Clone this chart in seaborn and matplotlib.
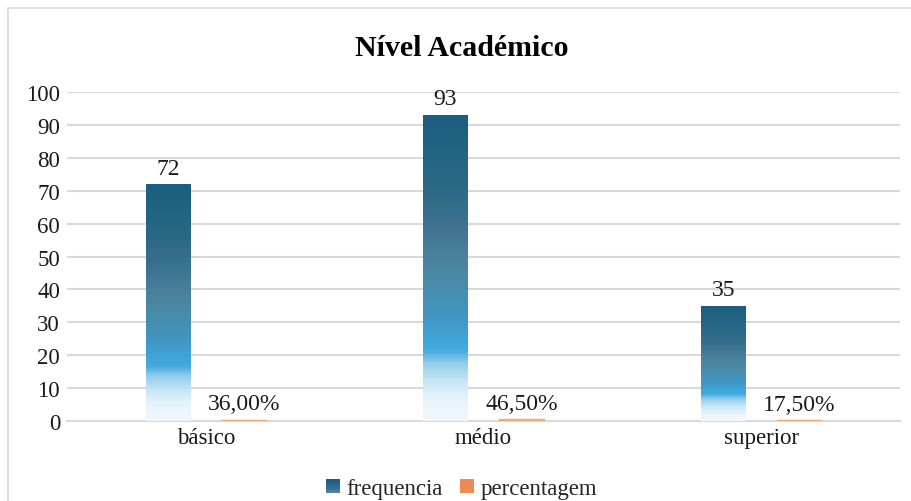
import numpy as np
import pandas as pd
import matplotlib
matplotlib.use("Agg")
import matplotlib.pyplot as plt
import seaborn as sns
from matplotlib.colors import LinearSegmentedColormap
from matplotlib.patches import Rectangle, Patch
from matplotlib.legend_handler import HandlerBase

categorias = ["básico", "médio", "superior"]
frequencia = [72, 93, 35]
percentagem = [0.36, 0.465, 0.175]
rotulos_pct = ["36,00%", "46,50%", "17,50%"]
series = ["frequencia", "percentagem"]
yticks = list(range(0, 101, 10))

df = pd.DataFrame({
    "categoria": categorias * 2,
    "serie": [series[0]] * 3 + [series[1]] * 3,
    "valor": frequencia + percentagem,
})

sns.set_theme(style="white")
plt.rcParams["font.family"] = ["Liberation Serif", "DejaVu Serif"]

fig = plt.figure(figsize=(9.12, 5.02), dpi=100)
ax = fig.add_axes([67 / 912, 1 - 422 / 502, (900 - 67) / 912, (422 - 93) / 502])

cor_pct = "#f4a97a"
sns.barplot(data=df, x="categoria", y="valor", hue="serie", order=categorias,
            hue_order=series, palette=["#2e7396", cor_pct], width=0.548, gap=0.42,
            legend=False, ax=ax, saturation=1, zorder=3)

# vertical gradient for the frequency bars (top dark teal -> bright blue -> white)
grad = LinearSegmentedColormap.from_list("freq", [
    (0.0, "#f2f9fd"), (0.08, "#e4f2fa"), (0.13, "#c5e5f5"), (0.19, "#8fcdeb"),
    (0.23, "#45aade"), (0.27, "#3fa4d8"), (0.35, "#4294c0"), (0.47, "#4b8aa5"),
    (0.55, "#4a8099"), (0.65, "#3b728e"), (0.78, "#2a6886"), (1.0, "#1b5e80")])
img = np.linspace(0, 1, 256).reshape(-1, 1)
n_freq = len(categorias)
for p in ax.patches[:n_freq]:
    x0, y0 = p.get_x(), p.get_y()
    w, h = p.get_width(), p.get_height()
    p.set_facecolor("none")
    p.set_edgecolor("none")
    im = ax.imshow(img, cmap=grad, origin="lower", aspect="auto",
                   extent=(x0, x0 + w, y0, y0 + h), zorder=3)
    im.set_clip_path(p)
for p in ax.patches[n_freq:]:
    p.set_edgecolor(cor_pct)
    p.set_linewidth(1.0)

# value labels
for p, v in zip(ax.patches[:n_freq], frequencia):
    ax.annotate(f"{v}", (p.get_x() + p.get_width() / 2, p.get_height()),
                xytext=(0, 4), textcoords="offset points", ha="center", va="bottom",
                fontsize=17, color="#1a1a1a")
for p, s in zip(ax.patches[n_freq:], rotulos_pct):
    ax.annotate(s, (p.get_x() + p.get_width() / 2, p.get_height()),
                xytext=(0, 4), textcoords="offset points", ha="center", va="bottom",
                fontsize=17, color="#1a1a1a")

ax.set_xlim(-0.5, len(categorias) - 0.5)
ax.set_ylim(0, 100)
ax.set_yticks(yticks)
ax.set_yticklabels([str(t) for t in yticks])
ax.yaxis.grid(True, color="#d9d9d9", linewidth=1.5, zorder=0)
ax.set_axisbelow(True)
for s in ["top", "right", "left"]:
    ax.spines[s].set_visible(False)
ax.spines["bottom"].set_color("#d9d9d9")
ax.spines["bottom"].set_linewidth(1.5)
ax.tick_params(axis="both", length=0, labelsize=16.5, colors="#1a1a1a")
ax.tick_params(axis="y", pad=5)
ax.tick_params(axis="x", pad=4)
ax.set_xlabel("")
ax.set_ylabel("")
ax.set_facecolor("white")

fig.text(462 / 912, 1 - 48 / 502, "Nível Académico", ha="center", va="center",
         fontsize=21.5, fontweight="bold", color="#000000")

# chart frame
fig.patches.append(Rectangle((8 / 912, -0.05), 1.1, 1 - 9 / 502 + 0.05,
                             transform=fig.transFigure, fill=False,
                             edgecolor="#d9d9d9", linewidth=1.2, zorder=0))


class GradientHandler(HandlerBase):
    def create_artists(self, legend, orig_handle, xdescent, ydescent, width, height,
                       fontsize, trans):
        artists = []
        n = 12
        side = height
        x = xdescent * -1 + (width - side) / 2
        for i in range(n):
            c = grad(1 - 0.5 * i / (n - 1))
            r = Rectangle((x, -ydescent + side * (n - 1 - i) / n), side, side / n,
                          facecolor=c, edgecolor="none", transform=trans)
            artists.append(r)
        return artists


class SquareHandler(HandlerBase):
    def create_artists(self, legend, orig_handle, xdescent, ydescent, width, height,
                       fontsize, trans):
        side = height
        x = xdescent * -1 + (width - side) / 2
        return [Rectangle((x, -ydescent), side, side, facecolor=orig_handle.get_facecolor(),
                          edgecolor="none", transform=trans)]


h_freq = Patch(facecolor="#2e7396")
h_pct = Patch(facecolor="#f08a55")
fig.legend([h_freq, h_pct], series, loc="center", bbox_to_anchor=(462 / 912, 1 - 490 / 502),
           ncol=2, frameon=False, fontsize=16.5, handlelength=0.55, handleheight=0.55,
           handletextpad=0.3, columnspacing=0.8,
           handler_map={h_freq: GradientHandler(), h_pct: SquareHandler()})

fig.savefig("out.png", dpi=100, facecolor="white")
